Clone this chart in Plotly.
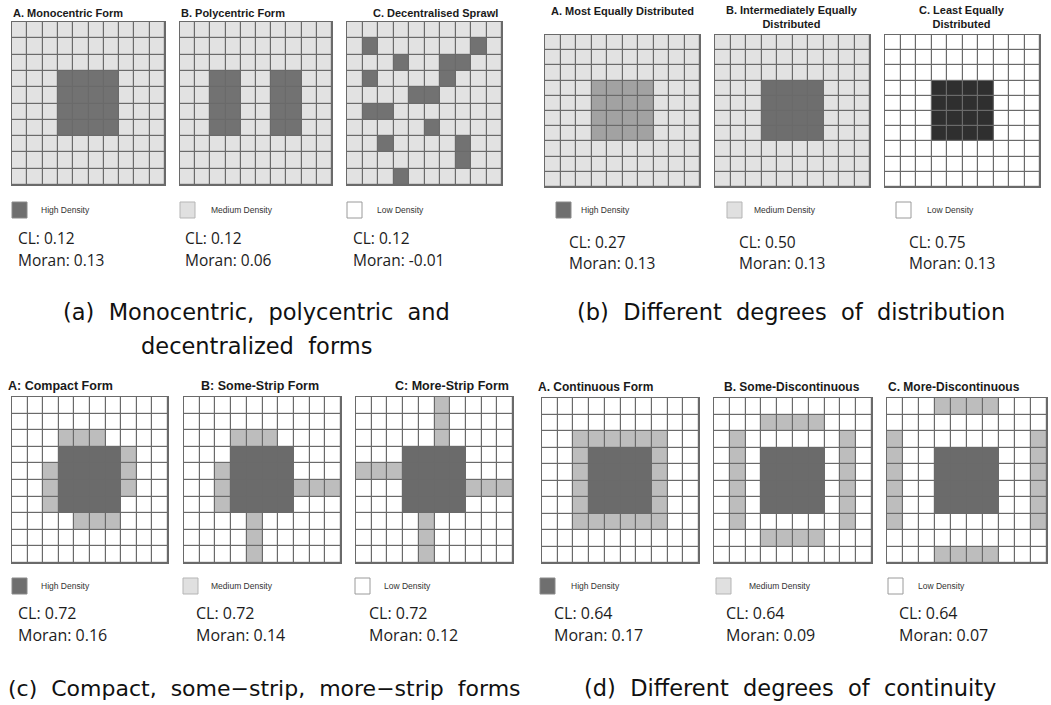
import plotly.graph_objects as go

W, H = 1051, 705

# ---------------- data: 10x10 grids (0 = low, 1 = medium, 2 = high density) ----------
MONOCENTRIC = ["1111111111", "1111111111", "1111111111", "1112222111", "1112222111",
               "1112222111", "1112222111", "1111111111", "1111111111", "1111111111"]
POLYCENTRIC = ["1111111111", "1111111111", "1111111111", "1122112211", "1122112211",
               "1122112211", "1122112211", "1111111111", "1111111111", "1111111111"]
DECENTRALISED = ["1111111111", "1211111121", "1112112211", "1211112111", "1111221111",
                 "1221111111", "1111121111", "1121111211", "1111111211", "1112111111"]
MOST_EQUAL = MONOCENTRIC
INTERMEDIATE_EQUAL = MONOCENTRIC
LEAST_EQUAL = ["0000000000", "0000000000", "0000000000", "0002222000", "0002222000",
               "0002222000", "0002222000", "0000000000", "0000000000", "0000000000"]
COMPACT = ["0000000000", "0000000000", "0001110000", "0002222100", "0012222100",
           "0012222100", "0012222000", "0000111000", "0000000000", "0000000000"]
SOME_STRIP = ["0000000000", "0000000000", "0001110000", "0002222000", "0012222000",
              "0012222111", "0012222000", "0000100000", "0000100000", "0000100000"]
MORE_STRIP = ["0000010000", "0000010000", "0000010000", "0002222000", "1112222000",
              "0002222111", "0002222000", "0000100000", "0000100000", "0000100000"]
CONTINUOUS = ["0000000000", "0000000000", "0011111100", "0012222100", "0012222100",
              "0012222100", "0012222100", "0011111100", "0000000000", "0000000000"]
SOME_DISCONTINUOUS = ["0000000000", "0001111000", "0100000010", "0102222010", "0102222010",
                      "0102222010", "0102222010", "0100000010", "0001111000", "0000000000"]
MORE_DISCONTINUOUS = ["0001111000", "0000000000", "1000000001", "1002222001", "1002222001",
                      "1002222001", "1002222001", "1000000001", "0000000000", "0001111000"]

GRIDS = [MONOCENTRIC, POLYCENTRIC, DECENTRALISED,
         MOST_EQUAL, INTERMEDIATE_EQUAL, LEAST_EQUAL,
         COMPACT, SOME_STRIP, MORE_STRIP,
         CONTINUOUS, SOME_DISCONTINUOUS, MORE_DISCONTINUOUS]

TITLES = ["A. Monocentric Form", "B. Polycentric Form", "C. Decentralised Sprawl",
          "A. Most Equally Distributed", "B. Intermediately Equally<br>Distributed",
          "C. Least Equally<br>Distributed",
          "A: Compact Form", "B: Some-Strip Form", "C: More-Strip Form",
          "A. Continuous Form", "B. Some-Discontinuous", "C. More-Discontinuous"]
CL = ["0.12", "0.12", "0.12", "0.27", "0.50", "0.75",
      "0.72", "0.72", "0.72", "0.64", "0.64", "0.64"]
MORAN = ["0.13", "0.06", "-0.01", "0.13", "0.13", "0.13",
         "0.16", "0.14", "0.12", "0.17", "0.09", "0.07"]
LEGEND_LABELS = ["High Density", "Medium Density", "Low Density"]
CAPTION_LINES = ["(a)  Monocentric,  polycentric  and", "decentralized  forms",
                 "(b)  Different  degrees  of  distribution",
                 "(c)  Compact,  some−strip,  more−strip  forms",
                 "(d)  Different  degrees  of  continuity"]

# ---------------- styling / layout ----------------
PAL_A = ["#ffffff", "#e2e2e2", "#727272"]
PAL_B = [["#ffffff", "#e2e2e2", "#a2a2a2"],
         ["#ffffff", "#e2e2e2", "#6e6e6e"],
         ["#ffffff", "#e2e2e2", "#2f2f2f"]]
PAL_CD = ["#ffffff", "#bdbdbd", "#6b6b6b"]
PALETTES = [PAL_A, PAL_A, PAL_A] + PAL_B + [PAL_CD] * 6

# grid pixel boxes: x0, x1, y0, y1
BOXES = [(12, 165, 22, 185), (180, 332, 22, 185), (347, 502, 22, 185),
         (545, 700, 35, 187), (715, 870, 35, 187), (885, 1040, 35, 187),
         (12, 168, 397, 563), (184, 341, 397, 563), (356, 513, 397, 563),
         (542, 699, 398, 563), (714, 872, 398, 563), (887, 1047, 398, 563)]
GRID_LINE = "#6a6a6a"

fig = go.Figure()
layout = dict(width=W, height=H, autosize=False, margin=dict(l=0, r=0, t=0, b=0, pad=0),
              paper_bgcolor="white", plot_bgcolor=GRID_LINE, showlegend=False)

for i, (g, pal, box) in enumerate(zip(GRIDS, PALETTES, BOXES)):
    k = "" if i == 0 else str(i + 1)
    z = [[int(c) for c in row] for row in g]
    fig.add_trace(go.Heatmap(
        z=z, xaxis="x" + k, yaxis="y" + k, zmin=0, zmax=2,
        colorscale=[[0, pal[0]], [0.5, pal[1]], [1, pal[2]]],
        showscale=False, xgap=1.2, ygap=1.2, hoverinfo="skip"))
    x0, x1, y0, y1 = box
    ax = dict(showgrid=False, zeroline=False, showticklabels=False, ticks="",
              showline=True, mirror=True, linecolor=GRID_LINE, linewidth=1.2,
              fixedrange=True)
    layout["xaxis" + k] = dict(ax, domain=[x0 / W, x1 / W], range=[-0.5, 9.5], anchor="y" + k)
    layout["yaxis" + k] = dict(ax, domain=[1 - y1 / H, 1 - y0 / H], range=[9.5, -0.5], anchor="x" + k)

fig.update_layout(**layout)

ann = []
shapes = []


def text(s, x, y, size, family="Liberation Sans", bold=False, xanchor="left",
         color="#111111", yanchor="middle"):
    ann.append(dict(text=("<b>%s</b>" % s) if bold else s, x=x / W, y=1 - y / H,
                    xref="paper", yref="paper", showarrow=False, xanchor=xanchor,
                    yanchor=yanchor, align="center", borderpad=0,
                    font=dict(size=size, family=family, color=color)))


# titles: (x, y, anchor, size)
TITLE_POS = [(12, 13, "left", 11), (180, 13, "left", 11), (499, 13, "right", 11),
             (622, 11, "center", 11), (792, 17, "center", 11), (962, 17, "center", 11),
             (7, 386, "left", 12.5), (200, 386, "left", 12.5), (510, 386, "right", 12.5),
             (537, 387, "left", 12), (723, 387, "left", 12), (887, 387, "left", 12)]
for t, (x, y, a, s) in zip(TITLES, TITLE_POS):
    text(t, x, y, s, bold=True, xanchor=a, color="#1a1a1a")

# legend keys and CL / Moran texts
# (square x, square y, label x, text x, text y CL, text y Moran, size)
LEG = [(12, 202, 40, 17, 238, 260, 15.5),
       (180, 202, 210, 184, 238, 260, 15.5),
       (347, 202, 376, 352, 238, 260, 15.5),
       (556, 202, 580, 568, 242, 263, 15.5),
       (727, 202, 753, 738, 242, 263, 15.5),
       (896, 202, 926, 908, 242, 263, 15.5),
       (12, 578, 40, 17, 613, 635, 16),
       (183, 578, 210, 195, 613, 635, 16),
       (355, 578, 383, 368, 613, 635, 16),
       (540, 578, 570, 553, 613, 635, 16),
       (716, 578, 748, 725, 613, 635, 16),
       (888, 578, 917, 898, 613, 635, 16)]
KEY_FILL = ["#6f6f6f", "#e0e0e0", "#ffffff"]
KEY_LINE = ["#8a8a8a", "#b5b5b5", "#9a9a9a"]
for i, (sx, sy, lx, tx, ty1, ty2, fs) in enumerate(LEG):
    j = i % 3
    shapes.append(dict(type="rect", xref="paper", yref="paper",
                       x0=sx / W, x1=(sx + 15) / W, y0=1 - (sy + 16) / H, y1=1 - sy / H,
                       fillcolor=KEY_FILL[j], line=dict(color=KEY_LINE[j], width=1)))
    text(LEGEND_LABELS[j], lx, sy + 8, 8.5, family="Liberation Sans", color="#333333")
    text("CL: " + CL[i], tx, ty1, fs, family="Open Sans", color="#1c1c1c")
    text("Moran: " + MORAN[i], tx, ty2, fs, family="Open Sans", color="#1c1c1c")

# captions: (x, y, size)
CAP_POS = [(256, 312, 22.5), (256, 346, 22.5), (791, 312, 22.5), (264, 688, 22), (790, 688, 22.5)]
for c, (x, y, s) in zip(CAPTION_LINES, CAP_POS):
    text(c, x, y, s, family="DejaVu Sans", xanchor="center", color="#111111")

fig.update_layout(annotations=ann, shapes=shapes)
fig.write_html("out.html", config={"displayModeBar": False},
               post_script="document.body.style.margin='0';")
